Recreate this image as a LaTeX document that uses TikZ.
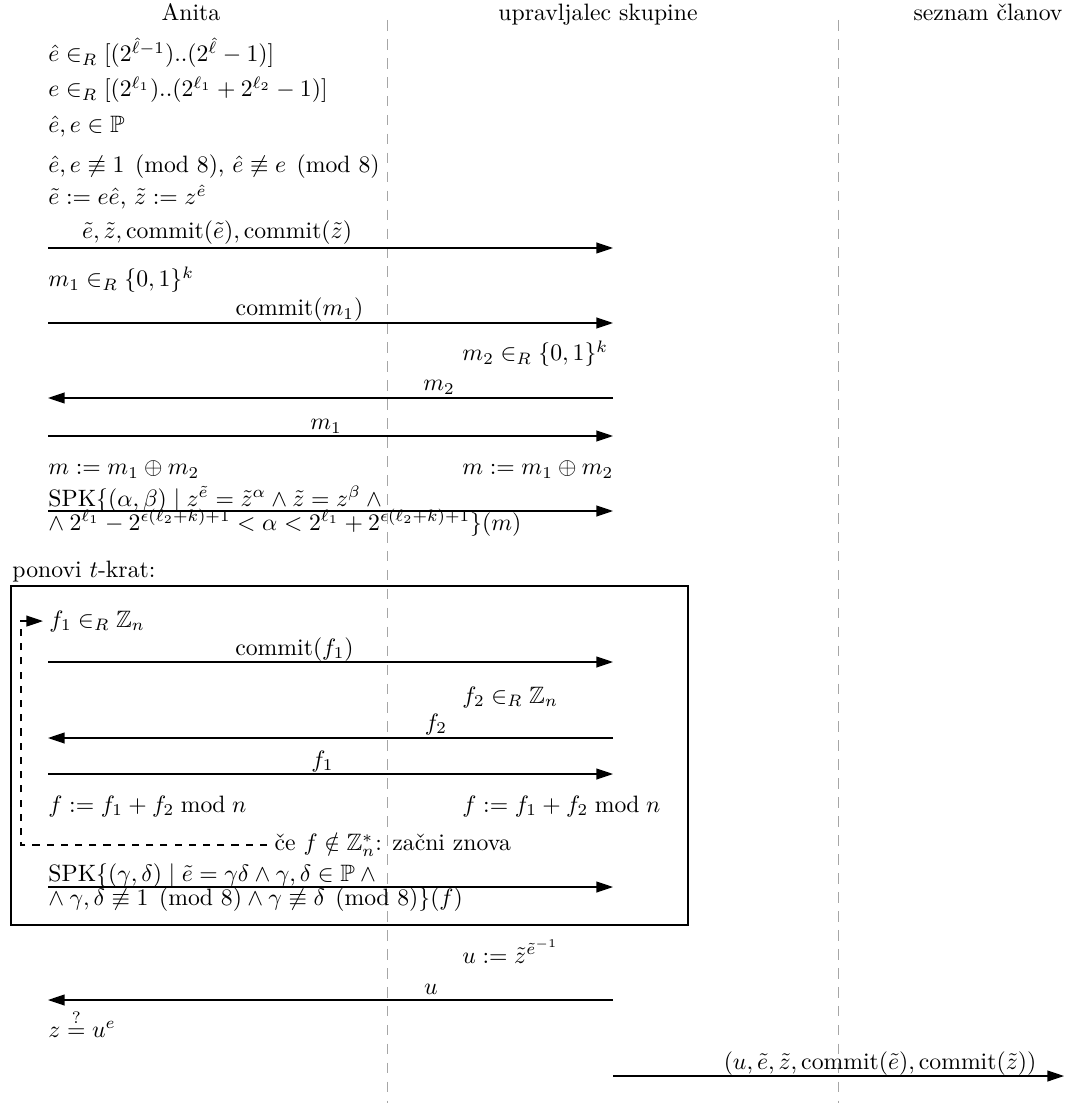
\documentclass[tikz,border=0pt]{standalone}
\usepackage{amsmath,amssymb}
\usepackage{fontspec}
\usetikzlibrary{arrows.meta}
\begin{document}
\begin{tikzpicture}[x=0.422pt,y=-0.422pt,
  txt/.style={anchor=base west,inner sep=0pt},
  lbl/.style={anchor=base,inner sep=0pt},
  hdr/.style={anchor=base,inner sep=0pt},
  msg/.style={-{Triangle[length=7pt,width=4.6pt]},line width=0.5pt},
  life/.style={gray!70,dash pattern=on 4.5pt off 3.5pt,line width=0.4pt},
  loopline/.style={dashed,-{Triangle[length=7pt,width=4.6pt]},line width=0.5pt},
  frame/.style={draw,line width=0.5pt}]
\useasboundingbox (0,0) rectangle (1065,1103);

% headers
\node[hdr] (anita) at (191,21) {Anita};
\node[hdr] (upr) at (598,21) {upravljalec skupine};
\node[hdr] (sez) at (988,21) {seznam članov};

% separator lines
\coordinate (s1t) at (387,20); \coordinate (s1b) at (387,1103);
\coordinate (s2t) at (838,20); \coordinate (s2b) at (838,1103);
\draw[life] (s1t) -- (s1b);
\draw[life] (s2t) -- (s2b);

% Anita setup
\node[txt] (r1) at (48,62) {$\hat{e} \in_R [(2^{\hat{\ell}-1})..(2^{\hat{\ell}}-1)]$};
\node[txt] (r2) at (48,97) {$e \in_R [(2^{\ell_1})..(2^{\ell_1}+2^{\ell_2}-1)]$};
\node[txt] (r3) at (48,133) {$\hat{e}, e \in \mathbb{P}$};
\node[txt] (r4) at (48,173) {$\hat{e}, e \not\equiv 1 \pmod{8}$, $\hat{e} \not\equiv e \pmod{8}$};
\node[txt] (r5) at (48,205) {$\tilde{e} := e\hat{e}$, $\tilde{z} := z^{\hat{e}}$};

% message 1
\coordinate (a1l) at (48,248); \coordinate (a1r) at (613,248);
\draw[msg] (a1l) -- (a1r);
\node[lbl] (l1) at (217,239) {$\tilde{e}, \tilde{z}, \mathrm{commit}(\tilde{e}), \mathrm{commit}(\tilde{z})$};

\node[txt] (m1r) at (48,287) {$m_1 \in_R \{0,1\}^k$};
\coordinate (a2l) at (48,323); \coordinate (a2r) at (613,323);
\draw[msg] (a2l) -- (a2r);
\node[lbl] (l2) at (299.5,316) {$\mathrm{commit}(m_1)$};

\node[txt] (m2r) at (462,361) {$m_2 \in_R \{0,1\}^k$};
\coordinate (a3l) at (48,398); \coordinate (a3r) at (613,398);
\draw[msg] (a3r) -- (a3l);
\node[lbl] (l3) at (439,391) {$m_2$};

\coordinate (a4l) at (48,436); \coordinate (a4r) at (613,436);
\draw[msg] (a4l) -- (a4r);
\node[lbl] (l4) at (326,430) {$m_1$};

\node[txt] (mA) at (48,475) {$m := m_1 \oplus m_2$};
\node[txt] (mB) at (462,475) {$m := m_1 \oplus m_2$};

\coordinate (s1l) at (48,511); \coordinate (s1r) at (613,511);
\draw[msg] (s1l) -- (s1r);
\node[txt] (spk1a) at (48,506) {$\mathrm{SPK}\{(\alpha,\beta) \mid z^{\tilde{e}} = \tilde{z}^{\alpha} \land \tilde{z} = z^{\beta} \land{}$};
\node[txt] (spk1b) at (48,530) {$\land\: 2^{\ell_1} - 2^{\epsilon(\ell_2+k)+1} < \alpha < 2^{\ell_1} + 2^{\epsilon(\ell_2+k)+1}\}(m)$};

% repeat block
\node[txt] (rep) at (12,577) {ponovi $t$-krat:};
\coordinate (boxtl) at (11,586); \coordinate (boxbr) at (688,925);
\draw[frame] (boxtl) rectangle (boxbr);

\node[anchor=base west,inner sep=2.5pt] (f1) at (43,627) {$f_1 \in_R \mathbb{Z}_n$};
\coordinate (a5l) at (48,662); \coordinate (a5r) at (613,662);
\draw[msg] (a5l) -- (a5r);
\node[lbl] (l5) at (294.5,655) {$\mathrm{commit}(f_1)$};

\node[txt] (f2) at (462,703) {$f_2 \in_R \mathbb{Z}_n$};
\coordinate (a6l) at (48,738); \coordinate (a6r) at (613,738);
\draw[msg] (a6r) -- (a6l);
\node[lbl] (l6) at (436,730) {$f_2$};

\coordinate (a7l) at (48,774); \coordinate (a7r) at (613,774);
\draw[msg] (a7l) -- (a7r);
\node[lbl] (l7) at (322.5,767) {$f_1$};

\node[txt] (fA) at (48,812) {$f := f_1 + f_2 \bmod n$};
\node[txt] (fB) at (462,812) {$f := f_1 + f_2 \bmod n$};

\node[anchor=west,inner sep=3pt] (ce) at (267,845) {če $f \notin \mathbb{Z}_n^*$: začni znova};
\coordinate (loopc) at (21,845);
\draw[loopline] (ce.west) -- (loopc) |- (f1.west);

\coordinate (s2l) at (48,887); \coordinate (s2r) at (613,887);
\draw[msg] (s2l) -- (s2r);
\node[txt] (spk2a) at (48,881) {$\mathrm{SPK}\{(\gamma,\delta) \mid \tilde{e} = \gamma\delta \land \gamma,\delta \in \mathbb{P} \land{}$};
\node[txt] (spk2b) at (48,905) {$\land\: \gamma,\delta \not\equiv 1 \pmod{8} \land \gamma \not\equiv \delta \pmod{8}\}(f)$};

% final part
\node[txt] (ur) at (462,963) {$u := \tilde{z}^{\tilde{e}^{-1}}$};
\coordinate (a8l) at (48,1000); \coordinate (a8r) at (613,1000);
\draw[msg] (a8r) -- (a8l);
\node[lbl] (l8) at (431,994) {$u$};

\node[txt] (zc) at (48,1037) {$z \stackrel{?}{=} u^e$};

\coordinate (a9l) at (613,1076); \coordinate (a9r) at (1064,1076);
\draw[msg] (a9l) -- (a9r);
\node[lbl] (l9) at (880,1069) {$(u, \tilde{e}, \tilde{z}, \mathrm{commit}(\tilde{e}), \mathrm{commit}(\tilde{z}))$};
\end{tikzpicture}
\end{document}
